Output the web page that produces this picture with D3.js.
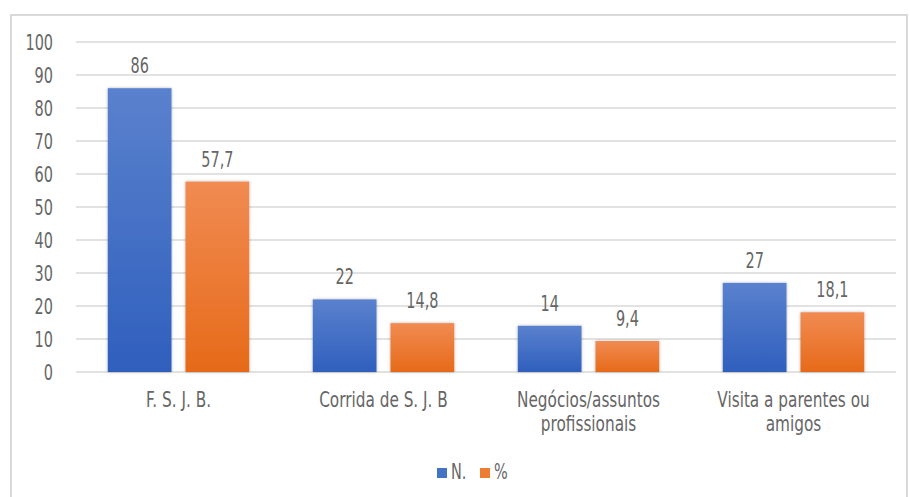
<!DOCTYPE html>
<html lang="pt">
<head>
<meta charset="UTF-8">
<title>Motivo da visita</title>
<script src="https://d3js.org/d3.v7.min.js"></script>
<style>
  body { margin: 0; background: #fff; }
  svg text { font-family: "DejaVu Sans", sans-serif; fill: #666; font-size: 17px; }
</style>
</head>
<body>
<div id="chart"></div>
<script>
// data
const categories = [["F. S. J. B."], ["Corrida de S. J. B"], ["Negócios/assuntos", "profissionais"], ["Visita a parentes ou", "amigos"]];
const seriesNames = ["N.", "%"];
const valuesN = [86, 22, 14, 27];
const valuesPct = [57.7, 14.8, 9.4, 18.1];
const labelsN = ["86", "22", "14", "27"];
const labelsPct = ["57,7", "14,8", "9,4", "18,1"];
const yTicks = [0, 10, 20, 30, 40, 50, 60, 70, 80, 90, 100];

const width = 910, height = 497;
const margin = { left: 76, right: 14, top: 42, bottom: 125 };
const SY = 1.25; // the original font is tall and narrow

const svg = d3.select("#chart").append("svg")
    .attr("width", width)
    .attr("height", height);

// text placed at (x, baseline y), stretched vertically
function label(parent, x, yy, str, sx, anchor) {
    return parent.append("text")
        .attr("transform", `translate(${x},${yy}) scale(${sx},${SY})`)
        .attr("text-anchor", anchor || "middle")
        .text(str);
}

const defs = svg.append("defs");
function grad(id, top, bottom) {
    const g = defs.append("linearGradient").attr("id", id)
        .attr("x1", 0).attr("y1", 0).attr("x2", 0).attr("y2", 1);
    g.append("stop").attr("offset", "0%").attr("stop-color", top);
    g.append("stop").attr("offset", "100%").attr("stop-color", bottom);
}
grad("gBlue", "#5a81cd", "#2f5fbd");
grad("gOrange", "#f18b52", "#e66a19");
const f = defs.append("filter").attr("id", "shadow")
    .attr("x", "-20%").attr("y", "-20%").attr("width", "140%").attr("height", "140%");
f.append("feDropShadow").attr("dx", 0).attr("dy", 0).attr("stdDeviation", 1.5)
    .attr("flood-color", "#000").attr("flood-opacity", 0.3);

// outer frame
svg.append("rect")
    .attr("x", 11).attr("y", 15)
    .attr("width", 896).attr("height", 500)
    .attr("fill", "none")
    .attr("stroke", "#d9d9d9")
    .attr("stroke-width", 2);

const x0 = d3.scaleBand()
    .domain(d3.range(categories.length))
    .range([margin.left, width - margin.right])
    .paddingInner(0.31)
    .paddingOuter(0.155);

const x1 = d3.scaleBand()
    .domain([0, 1])
    .range([0, x0.bandwidth()])
    .paddingInner(0.18);

const y = d3.scaleLinear()
    .domain([0, 100])
    .range([height - margin.bottom, margin.top]);

// gridlines
svg.append("g").selectAll("line")
    .data(yTicks)
    .join("line")
    .attr("x1", margin.left)
    .attr("x2", width - margin.right)
    .attr("y1", d => y(d))
    .attr("y2", d => y(d))
    .attr("stroke", "#d9d9d9")
    .attr("stroke-width", 1.5);

// y tick labels
const yAx = svg.append("g");
yTicks.forEach(t => label(yAx, 53, y(t) + 7.5, t, 0.85, "end"));

const series = [
    { name: seriesNames[0], values: valuesN, labels: labelsN, fill: "url(#gBlue)", swatch: "#4472c4" },
    { name: seriesNames[1], values: valuesPct, labels: labelsPct, fill: "url(#gOrange)", swatch: "#ed7d31" }
];

series.forEach((s, si) => {
    const g = svg.append("g");
    g.selectAll("rect")
        .data(s.values)
        .join("rect")
        .attr("x", (d, i) => x0(i) + x1(si))
        .attr("y", d => y(d))
        .attr("width", x1.bandwidth())
        .attr("height", d => y(0) - y(d))
        .attr("fill", s.fill)
        .attr("filter", "url(#shadow)");
    s.values.forEach((d, i) => {
        label(g, x0(i) + x1(si) + x1.bandwidth() / 2, y(d) - 15, s.labels[i], 0.85);
    });
});

// category labels
const catG = svg.append("g");
categories.forEach((lines, i) => {
    lines.forEach((ln, k) => {
        label(catG, x0(i) + x0.bandwidth() / 2, 407 + k * 24, ln, 0.9);
    });
});

// legend
const legend = svg.append("g");
const legX = [437, 480];
series.forEach((s, si) => {
    legend.append("rect")
        .attr("x", legX[si]).attr("y", 468)
        .attr("width", 10).attr("height", 10)
        .attr("fill", s.swatch);
    label(legend, legX[si] + 14, 479, s.name, 0.85, "start");
});
</script>
</body>
</html>
